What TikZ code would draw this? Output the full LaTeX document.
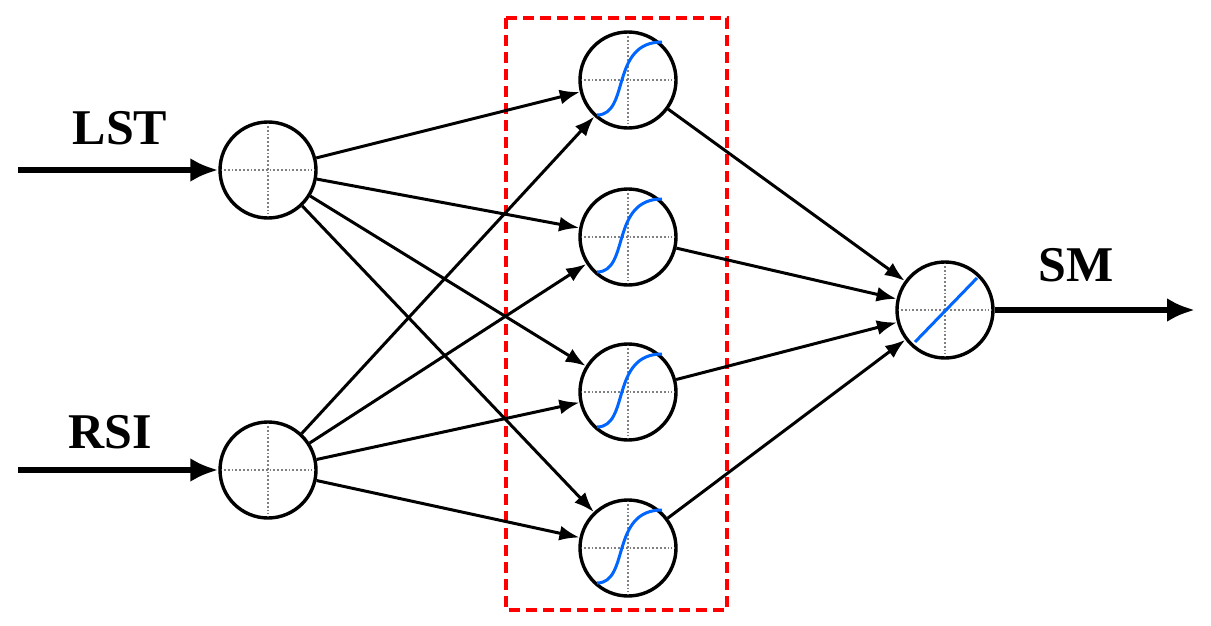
\documentclass[tikz,border=0pt]{standalone}
\usepackage{fontspec}
\usetikzlibrary{arrows.meta}
\setmainfont{Liberation Serif}
\begin{document}
\begin{tikzpicture}[x=1pt,y=-1pt,
 neuron/.style={circle,draw,line width=3.4pt,minimum size=96pt,inner sep=0pt},
 con/.style={-{Latex[length=20pt,width=15pt]},line width=3pt},
 big/.style={-{Latex[length=28pt,width=24pt]},line width=6pt},
 lab/.style={font=\bfseries\fontsize{50}{50}\selectfont},
 dots/.style={dotted,gray,line width=1.8pt},
 sig/.style={blue!60!cyan,line width=3pt}]
\useasboundingbox (0,0) rectangle (1211,626);
\draw[red,line width=3.4pt,dash pattern=on 11pt off 6pt] (506,18) rectangle (727,610);
\foreach \n/\x/\y in {i1/268/170,i2/268/470,h1/628/80,h2/628/237,h3/628/392,h4/628/548,o/945/310}{
 \draw[dots] (\x-44,\y) -- (\x+44,\y) (\x,\y-44) -- (\x,\y+44);
 \node[neuron] (\n) at (\x,\y) {};
}
\foreach \y in {80,237,392,548}{
 \draw[sig] (597,\y+35) .. controls (630,\y+35) and (610,\y-38) .. (662,\y-38);
}
\draw[sig] (915,342) -- (977,278);
\coordinate (a1) at (18,170);
\coordinate (a2) at (18,470);
\coordinate (b) at (1195,310);
\draw[big] (a1) -- (i1);
\draw[big] (a2) -- (i2);
\draw[big] (o) -- (b);
\foreach \i in {i1,i2}\foreach \h in {h1,h2,h3,h4}{\draw[con] (\i) -- (\h);}
\foreach \h in {h1,h2,h3,h4}{\draw[con] (\h) -- (o);}
\node[lab] (l1) at (120,128) {LST};
\node[lab] (l2) at (110,432) {RSI};
\node[lab] (l3) at (1076,265) {SM};
\end{tikzpicture}
\end{document}
